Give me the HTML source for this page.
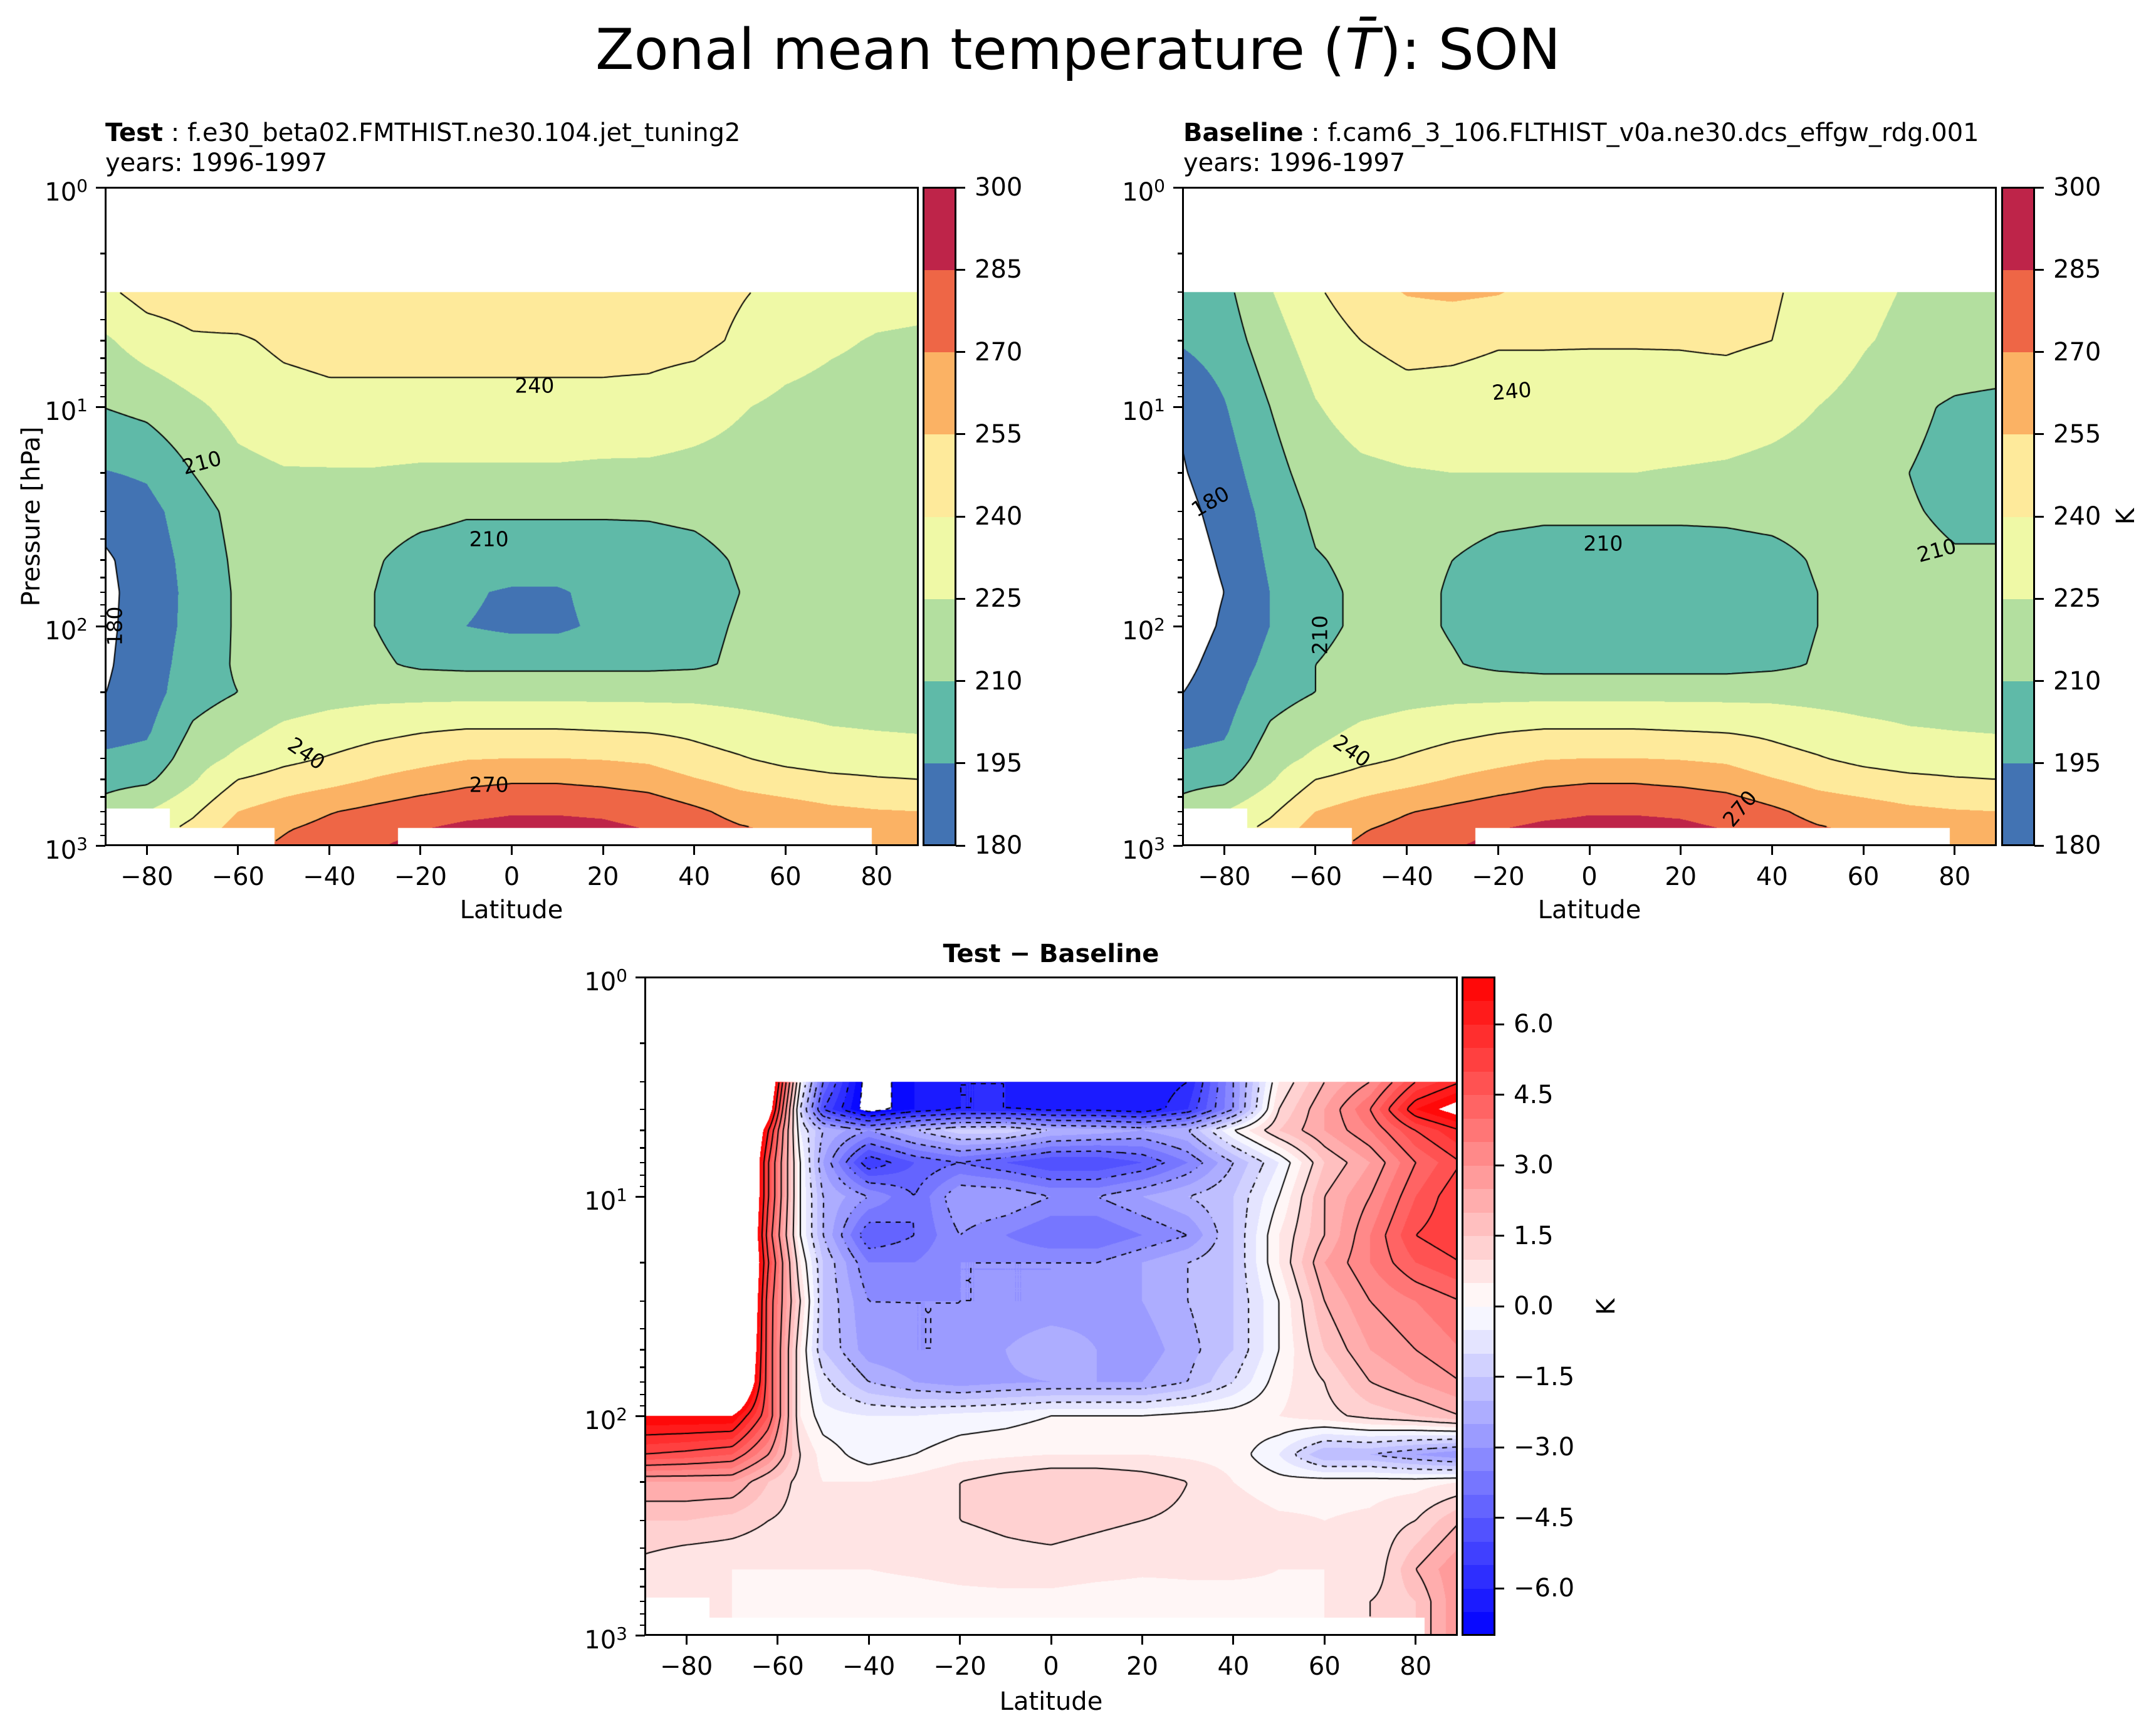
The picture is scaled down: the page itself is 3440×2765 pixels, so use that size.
<!DOCTYPE html>
<html><head><meta charset="utf-8">
<style>
body{margin:0;background:#fff}
#fig{position:relative;width:3440px;height:2765px;background:#fff;font-family:"DejaVu Sans","Liberation Sans",sans-serif;color:#000;overflow:hidden}
.abs{position:absolute;white-space:nowrap}
.frame{position:absolute;border:3px solid #000;box-sizing:border-box;pointer-events:none}
.tk{position:absolute;background:#000}
.lab{position:absolute;font-size:40px;line-height:40px;white-space:nowrap}
.cl{position:absolute;font-size:33px;line-height:33px;white-space:nowrap;transform-origin:center center}
</style></head>
<body>
<div id="fig">
<div class="abs" style="left:0;width:3440px;top:30px;text-align:center;font-size:90px;line-height:100px">Zonal mean temperature (<i>T̄</i>): SON</div>

<div class="abs" style="left:168px;top:188px;font-size:40px;line-height:48px"><b>Test</b> : f.e30_beta02.FMTHIST.ne30.104.jet_tuning2<br>years: 1996-1997</div>
<div class="abs" style="left:1888px;top:188px;font-size:40px;line-height:48px"><b>Baseline</b> : f.cam6_3_106.FLTHIST_v0a.ne30.dcs_effgw_rdg.001<br>years: 1996-1997</div>
<div class="abs" style="left:1029px;width:1296px;top:1500px;text-align:center;font-size:40px;line-height:44px;font-weight:bold">Test − Baseline</div>

<div class="abs" style="left:50px;top:824px;font-size:40px;line-height:40px;transform:translate(-50%,-50%) rotate(-90deg)">Pressure [hPa]</div>
<div class="abs" style="left:816px;top:1452px;font-size:40px;line-height:40px;transform:translate(-50%,-50%)">Latitude</div>
<div class="abs" style="left:2536px;top:1452px;font-size:40px;line-height:40px;transform:translate(-50%,-50%)">Latitude</div>
<div class="abs" style="left:1677px;top:2715px;font-size:40px;line-height:40px;transform:translate(-50%,-50%)">Latitude</div>
<div class="abs" style="left:3392px;top:824px;font-size:40px;line-height:40px;transform:translate(-50%,-50%) rotate(-90deg)">K</div>
<div class="abs" style="left:2563px;top:2085px;font-size:40px;line-height:40px;transform:translate(-50%,-50%) rotate(-90deg)">K</div>
</div>

<script>
// ---------------- data ----------------
const latsT = [-90,-80,-70,-60,-50,-40,-30,-20,-10,0,10,20,30,40,50,60,70,80,90];
const levelsT = [3,5,10,20,30,50,70,100,150,200,300,400,500,700,850,1000];
const testT = [
 [236,246,248,252,248,247,247,247,247,247,247,247,247,245,241,237,233,230,229],
 [222,232,238,238,243,245,245,245,245,245,245,245,245,244,238,231,227,224,223],
 [210,214,222,230,234,236,236,236,236,236,236,236,235,231,226,222,220,219,219],
 [194,197,210,221,224,224,224,223,223,223,223,222,222,221,220,219,218,217,217],
 [185,190,203,215,217,217,215,213,211,211,211,211,211,212,214,216,216,216,216],
 [177,187,200,213,215,214,211,206,205,205,205,205,206,207,211,214,215,215,215],
 [176,186,199,212,215,214,210,204,197,193,193,200,205,206,210,214,215,215,215],
 [176,187,199,212,214,213,210,205,195,192,192,198,205,207,211,215,216,216,216],
 [177,188,201,212,215,214,212,208,207,207,207,207,207,208,212,216,217,217,217],
 [179,188,204,210,216,219,220,220,220,220,220,220,220,220,219,218,218,218,218],
 [190,193,212,220,228,232,236,239,241,241,241,240,239,237,233,229,226,225,224],
 [197,199,218,228,236,241,246,250,254,255,255,254,252,245,241,236,233,233,232],
 [205,207,223,240,246,250,256,261,266,268,268,266,263,256,250,246,243,241,240],
 [215,225,237,255,262,269,274,279,282,284,284,283,280,273,265,262,258,256,255],
 [220,232,245,262,269,275,281,285,288,289,289,288,285,278,272,268,264,262,260],
 [222,235,250,266,272,278,284,288,291,292,292,290,287,281,275,271,267,265,263]
];
const baseT = [
 [200,206,224,238,248,256,258,256,249,246,246,246,246,242,234,228,224,223,222],
 [196,202,218,232,240,244,243,241,241,241,241,241,242,240,232,226,222,220,220],
 [181,194,210,224,232,235,235,234,234,233,233,234,233,230,225,221,213,208,206],
 [178,188,204,217,222,224,225,225,225,225,225,224,223,221,219,217,210,206,206],
 [175,185,200,213,216,217,215,213,212,212,212,212,212,213,214,215,211,208,208],
 [172,182,197,209,213,213,210,206,205,205,205,205,206,207,211,214,213,211,211],
 [171,180,195,207,212,213,209,204,203,202,202,203,204,206,210,214,214,213,213],
 [171,182,195,207,212,213,209,205,203,202,202,203,204,206,210,214,215,215,215],
 [175,186,199,210,214,214,211,207,205,205,205,205,205,207,211,215,216,216,216],
 [179,188,204,210,216,219,220,220,220,220,220,220,220,220,219,218,218,218,218],
 [190,193,212,220,228,232,236,239,241,241,241,240,239,237,233,229,226,225,224],
 [197,199,218,228,236,241,246,250,254,255,255,254,252,245,241,236,233,233,232],
 [205,207,223,240,246,250,256,261,266,268,268,266,263,256,250,246,243,241,240],
 [215,225,237,255,262,269,274,279,282,284,284,283,280,273,265,262,258,256,255],
 [220,232,245,262,269,275,281,285,288,289,289,288,285,278,272,268,264,262,260],
 [222,235,250,266,272,278,284,288,291,292,292,290,287,281,275,271,267,265,263]
];
const latsD = [-90,-80,-70,-62,-55,-50,-40,-30,-20,-10,0,10,20,30,40,50,60,70,80,90];
const levelsD = [3,4,5,7,10,15,20,30,50,70,100,150,200,300,500,700,1000];
const diffT = [
 [15,15,14,9,0,-4,-7.5,-6.5,-6,-6,-6,-6.2,-6.5,-6,-3,0.5,2,3,5,6],
 [15,15,14,8,-1,-5,-7.5,-6.5,-6,-6,-6.2,-6.2,-6.5,-5.5,-3,1,2.5,4,6.5,7.5],
 [15,15,13,6,-0.5,-2,-3,-2,-1.2,-1.2,-2,-2.2,-2.5,-2,0,1.5,2.5,3.5,5,6],
 [15,15,13,5,0,-2.5,-5.5,-4.5,-4,-4.5,-5,-5,-4.5,-3.5,-2,-0.5,1.5,2.5,4,5],
 [15,15,13,5,0,-2,-3,-4,-2.5,-2.5,-3,-3,-2.5,-2,-1.5,0,2,3,4.5,5.5],
 [15,15,13,4.5,0,-2,-4.5,-4,-3,-3.5,-4,-4,-3.5,-3,-1.5,0.5,2,3.5,5,5.5],
 [15,15,13,5,0.5,-1.5,-3.5,-3.5,-3,-3,-3,-3,-2.5,-2,-1.5,0.5,2.5,3.5,4.5,5],
 [15,15,13,4.5,1,-1.5,-3,-3,-3,-3,-3,-2.8,-2.5,-2,-1.5,0,2,3,3.5,4],
 [15,15,12,4.5,0.5,-1.5,-2.8,-3,-3,-2.5,-2,-2.5,-2.8,-2.2,-1.5,0,1.5,2.5,3,3.5],
 [12,12,11,4.5,0.5,-0.8,-2,-2.5,-2.8,-2.6,-2.5,-2.5,-2.5,-2,-1,0.3,1,2,2.5,3],
 [7,7,7,4.5,0.5,-0.3,-0.5,-0.5,-0.3,-0.2,0,0,0,0.2,0.3,0.5,0.8,1.2,1.5,2],
 [5,4.8,4.5,3,1,0.3,-0.3,0,0.3,0.4,0.5,0.5,0.5,0.4,0.3,-0.5,-2,-2,-2.5,-3],
 [2.5,2.5,2.5,1.5,0.8,0.5,0.5,0.7,1,1.3,1.5,1.5,1.3,1,0.5,0.2,0.3,0.3,0.3,0.5],
 [1.5,1.5,1.3,1,0.8,0.8,0.8,0.9,1,1.1,1.2,1.1,1,0.9,0.8,0.6,0.5,0.6,1,2],
 [0.8,0.5,0.5,0.5,0.5,0.5,0.5,0.6,0.7,0.8,0.8,0.7,0.6,0.6,0.6,0.5,0.5,0.5,2,3],
 [1,0.8,0.5,0.3,0.3,0.2,0.2,0.2,0.3,0.3,0.3,0.2,0.2,0.3,0.3,0.4,0.5,1,1.5,3],
 [1,0.8,0.5,0.3,0.3,0.2,0.2,0.2,0.2,0.3,0.3,0.2,0.2,0.3,0.3,0.4,0.5,1,1.5,3]
];
const tempLevels = [180,195,210,225,240,255,270,285,300];
const tempColors = ['#4273b3','#5fbaa8','#b3df9f','#eff9a6','#feea9b','#fbb264','#ee6646','#be2449'];
const tempLineLevels = [180,210,240,270];
const tempTickLabels = ['180','195','210','225','240','255','270','285','300'];
const diffMin = -7, diffMax = 7, diffStep = 0.5;
const diffLineLevels = [-7,-6,-5,-4,-3,-2,-1,0,1,2,3,4,5,6];
const diffTicks = [-6,-4.5,-3,-1.5,0,1.5,3,4.5,6];
const latTicks = [-80,-60,-40,-20,0,20,40,60,80];
const latMin = -89.1, latMax = 89.1;
const maskT = [[-90,-75,680],[-75,-52,830],[-25,79,830]];
const maskD = [[-90,-75,676],[-75,82,830]];
const testLabels = [['240',5,8,0],['210',-68,18,-15],['210',-5,40,0],['180',-87,100,-90],['240',-45,380,35],['270',-5,530,0]];
const baseLabels = [['240',-17,8.5,-5],['180',-83,27,-30],['210',3,42,0],['210',-59,110,-90],['210',76,45,-15],['240',-52,370,35],['270',33,680,-50]];

// ---------------- helpers ----------------
const fig = document.getElementById('fig');
function sampler(grid, lats, levs){
  const ll = levs.map(Math.log10);
  return function(lat, lp){
    if (lp < ll[0]-1e-9) return NaN;
    if (lp > ll[ll.length-1]) lp = ll[ll.length-1];
    let j=0; while (j < ll.length-2 && lp > ll[j+1]) j++;
    let i=0; while (i < lats.length-2 && lat > lats[i+1]) i++;
    const ty = (lp-ll[j])/(ll[j+1]-ll[j]);
    const tx = Math.max(0,Math.min(1,(lat-lats[i])/(lats[i+1]-lats[i])));
    const a = grid[j][i]*(1-tx)+grid[j][i+1]*tx;
    const b = grid[j+1][i]*(1-tx)+grid[j+1][i+1]*tx;
    return a*(1-ty)+b*ty;
  };
}
function masked(mask, lat, p){
  for (const m of mask) if (lat>=m[0] && lat<=m[1] && p>=m[2]) return true;
  return false;
}
function hex(c){return [parseInt(c.substr(1,2),16),parseInt(c.substr(3,2),16),parseInt(c.substr(5,2),16)];}
const tempRGB = tempColors.map(hex);
function tempColor(v){
  if (!(v>=tempLevels[0] && v<=tempLevels[tempLevels.length-1])) return null;
  let k = Math.min(tempColors.length-1, Math.floor((v-tempLevels[0])/15));
  return tempRGB[k];
}
const nD = Math.round((diffMax-diffMin)/diffStep);
function bwr(t){ return t<0.5 ? [Math.round(510*t),Math.round(510*t),255] : [255,Math.round(510*(1-t)),Math.round(510*(1-t))]; }
function diffColor(v){
  if (!(v>=diffMin && v<=diffMax)) return null;
  let k = Math.min(nD-1, Math.floor((v-diffMin)/diffStep));
  return bwr((k+0.5)/nD);
}

function el(tag, cls, name, inter){
  const e = document.createElement(tag);
  if (cls) e.className = cls;
  
  
  fig.appendChild(e);
  return e;
}

function panel(cfg){
  const {x,y,w,h,f,mask,colorFn,lines,name,dashNeg} = cfg;
  const cv = el('canvas','',name+'-plot-area','false');
  cv.width=w; cv.height=h;
  cv.style.cssText='position:absolute;left:'+x+'px;top:'+y+'px';
  const ctx = cv.getContext('2d');
  const img = ctx.createImageData(w,h);
  const latOf = px => latMin + (px+0.5)/w*(latMax-latMin);
  for (let py=0; py<h; py++){
    const lp = (py+0.5)/h*3, p = Math.pow(10,lp);
    for (let px=0; px<w; px++){
      const lat = latOf(px);
      let c = null;
      if (!masked(mask,lat,p)) c = colorFn(f(lat,lp));
      const o=(py*w+px)*4;
      if (c){img.data[o]=c[0];img.data[o+1]=c[1];img.data[o+2]=c[2];}
      else {img.data[o]=255;img.data[o+1]=255;img.data[o+2]=255;}
      img.data[o+3]=255;
    }
  }
  ctx.putImageData(img,0,0);
  const S=4, nx=Math.ceil(w/S)+1, ny=Math.ceil(h/S)+1;
  const V=[];
  for (let j=0;j<ny;j++){ const row=[]; const lp=Math.min(h,j*S)/h*3, p=Math.pow(10,lp);
    for (let i=0;i<nx;i++){ const lat=latMin+Math.min(w,i*S)/w*(latMax-latMin);
      row.push(masked(mask,lat,p)?NaN:f(lat,lp)); }
    V.push(row); }
  ctx.strokeStyle='#000'; ctx.lineWidth=2;
  for (const L of lines){
    ctx.beginPath();
    for (let j=0;j<ny-1;j++) for (let i=0;i<nx-1;i++){
      if (dashNeg && L<0 && ((i>>1)+(j>>1))%2) continue;
      const a=V[j][i],b=V[j][i+1],c=V[j+1][i+1],d=V[j+1][i];
      if (isNaN(a)||isNaN(b)||isNaN(c)||isNaN(d)) continue;
      const pts=[];
      const X0=i*S,Y0=j*S;
      if ((a<L)!==(b<L)) pts.push([X0+S*(L-a)/(b-a),Y0]);
      if ((b<L)!==(c<L)) pts.push([X0+S,Y0+S*(L-b)/(c-b)]);
      if ((d<L)!==(c<L)) pts.push([X0+S*(L-d)/(c-d),Y0+S]);
      if ((a<L)!==(d<L)) pts.push([X0,Y0+S*(L-a)/(d-a)]);
      for (let k=0;k+1<pts.length;k+=2){ ctx.moveTo(pts[k][0],pts[k][1]); ctx.lineTo(pts[k+1][0],pts[k+1][1]); }
    }
    ctx.stroke();
  }
  const fr = el('div','frame',name+'-axes-frame','false');
  fr.style.cssText='left:'+(x-1)+'px;top:'+(y-1)+'px;width:'+(w+2)+'px;height:'+(h+2)+'px';
  for (const t of latTicks){
    const tx = x + (t-latMin)/(latMax-latMin)*w;
    const tk = el('div','tk',name+'-x-tick','false');
    tk.style.cssText+='left:'+(tx-1.5)+'px;top:'+(y+h)+'px;width:3px;height:15px';
    const lb = el('div','lab',name+'-x-tick-label','false');
    lb.textContent = (t<0?'−':'')+Math.abs(t);
    lb.style.left=tx+'px'; lb.style.top=(y+h+30)+'px'; lb.style.transform='translateX(-50%)';
  }
  for (let k=0;k<=3;k++){
    const ty = y + k/3*h;
    const tk = el('div','tk',name+'-y-tick','false');
    tk.style.cssText+='left:'+(x-15)+'px;top:'+(ty-1.5)+'px;width:15px;height:3px';
    const lb = el('div','lab',name+'-y-tick-label','false');
    lb.innerHTML='10<sup style="font-size:28px;vertical-align:14px">'+k+'</sup>';
    lb.style.right=(3440-(x-28))+'px'; lb.style.top=(ty-22)+'px';
    if (k<3) for (let m=2;m<=9;m++){
      const my = y + (k+Math.log10(m))/3*h;
      const mt = el('div','tk',name+'-y-minor-tick','false');
      mt.style.cssText+='left:'+(x-8)+'px;top:'+(my-1.2)+'px;width:8px;height:2.4px';
    }
  }
}
function colorbar(cfg){
  const {x,y,w,h,n,colorOf,ticks,name} = cfg;
  for (let k=0;k<n;k++){
    const c = colorOf(k);
    const b = el('div','',name+'-band','false');
    const y0 = y + h - (k+1)/n*h;
    b.style.cssText='position:absolute;left:'+x+'px;top:'+y0+'px;width:'+w+'px;height:'+(h/n+0.6)+'px;background:rgb('+c.join(',')+')';
  }
  const fr = el('div','frame',name+'-frame','false');
  fr.style.cssText='left:'+(x-1)+'px;top:'+(y-1)+'px;width:'+(w+2)+'px;height:'+(h+2)+'px';
  for (const t of ticks){
    const ty = y + h - t.f*h;
    const tk = el('div','tk',name+'-tick','false');
    tk.style.cssText+='left:'+(x+w)+'px;top:'+(ty-1.5)+'px;width:15px;height:3px';
    const lb = el('div','lab',name+'-tick-label','false');
    lb.textContent=t.s; lb.style.left=(x+w+30)+'px'; lb.style.top=(ty-20)+'px';
  }
}
function clabels(list, x,y,w,h, name){
  for (const [s,lat,p,rot] of list){
    const lb = el('div','cl',name+'-contour-label','false');
    lb.textContent=s;
    lb.style.left=(x+(lat-latMin)/(latMax-latMin)*w)+'px';
    lb.style.top=(y+Math.log10(p)/3*h)+'px';
    lb.style.transform='translate(-50%,-50%) rotate('+rot+'deg)';
  }
}

const fTest = sampler(testT, latsT, levelsT);
const fBase = sampler(baseT, latsT, levelsT);
const fDiff = sampler(diffT, latsD, levelsD);

panel({x:168,y:299,w:1297,h:1050,f:fTest,mask:maskT,colorFn:tempColor,lines:tempLineLevels,name:'test'});
panel({x:1887,y:299,w:1298,h:1050,f:fBase,mask:maskT,colorFn:tempColor,lines:tempLineLevels,name:'baseline'});
panel({x:1029,y:1559,w:1296,h:1050,f:fDiff,mask:maskD,colorFn:diffColor,lines:diffLineLevels,name:'diff',dashNeg:true});
clabels(testLabels,168,299,1297,1050,'test');
clabels(baseLabels,1887,299,1298,1050,'baseline');

const tTicks = tempLevels.map((v,i)=>({f:(v-tempLevels[0])/(tempLevels[tempLevels.length-1]-tempLevels[0]), s:tempTickLabels[i]}));
colorbar({x:1473,y:299,w:52,h:1050,n:tempColors.length,colorOf:k=>tempRGB[k],ticks:tTicks,name:'test-colorbar'});
colorbar({x:3194,y:299,w:52,h:1050,n:tempColors.length,colorOf:k=>tempRGB[k],ticks:tTicks,name:'baseline-colorbar'});
const dTicks = diffTicks.map(v=>({f:(v-diffMin)/(diffMax-diffMin), s:(v<0?'−':'')+Math.abs(v).toFixed(1)}));
colorbar({x:2333,y:1559,w:52,h:1050,n:nD,colorOf:k=>bwr((k+0.5)/nD),ticks:dTicks,name:'diff-colorbar'});
</script>
</body></html>
